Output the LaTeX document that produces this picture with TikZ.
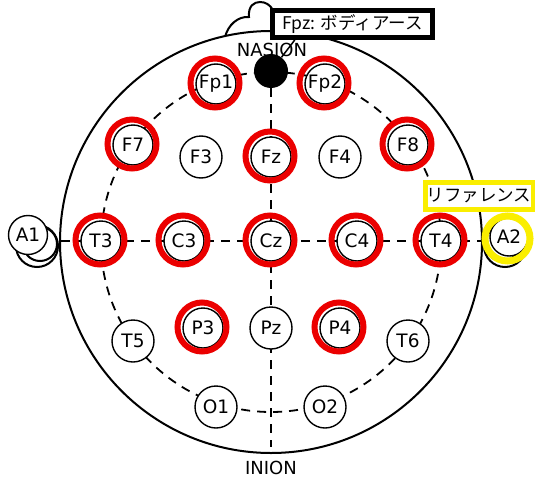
\documentclass[tikz,border=0pt]{standalone}
\usepackage{fontspec}
\setmainfont{DejaVu Sans}
\newfontfamily\jpfont{Noto Sans CJK JP}
\usetikzlibrary{calc}
\definecolor{ringred}{RGB}{235,0,0}
\definecolor{refyellow}{RGB}{250,238,0}
\begin{document}
\begin{tikzpicture}[x=1pt,y=-1pt,
  headline/.style={line width=2pt},
  gridline/.style={line width=1.8pt, dash pattern=on 9pt off 7pt},
  electrode/.style={circle, draw, fill=white, line width=1.4pt, minimum size=42pt,
    inner sep=0pt, font=\fontsize{18.5}{18.5}\selectfont},
  marked/.style={electrode, minimum size=40pt},
  ring/.style={draw=ringred, line width=6pt},
  yring/.style={draw=refyellow, line width=7pt},
  dot/.style={circle, fill=black, minimum size=34pt, inner sep=0pt},
  landmark/.style={font=\fontsize{18}{18}\selectfont, inner sep=0pt},
  labelbox/.style={draw, fill=white, line width=5pt, inner sep=0pt,
    font=\jpfont\fontsize{17.5}{17.5}\selectfont},
  pointer/.style={line width=1.5pt}
]
\useasboundingbox (0,0) rectangle (535,479);
\fill[white] (0,0) rectangle (535,479);

% ears
\draw[headline, fill=white] (37,246) circle[radius=21];
\draw[headline, fill=white] (40,244) circle[radius=17];
\draw[headline, fill=white] (505,246) circle[radius=21];
\draw[headline, fill=white] (502,244) circle[radius=17];

% nose
\draw[headline, fill=white] (225,37) .. controls (228,25) and (238,16) .. (249,17)
  .. controls (248,6) and (254,2) .. (260,2) .. controls (266,2) and (270,5) .. (273,10)
  .. controls (290,14) and (300,22) .. (310,36) -- (271,60) -- cycle;

% head
\coordinate (hc) at (271,242);
\draw[headline, fill=white] (hc) circle[radius=211];

% measurement lines
\coordinate (hl) at (61,241);
\coordinate (hr) at (481,241);
\coordinate (vb) at (271,447);
\draw[gridline] (hc) circle[radius=170];
\draw[gridline] (hl) -- (hr);

% landmarks
\node[landmark] (nasionlbl) at (272,50) {NASION};
\node[landmark] (inion) at (271,468) {INION};
\node[dot] (nasion) at (271,71) {};
\draw[gridline] (nasion) -- (vb);

% electrodes
\node[marked] (fp1) at (216,84) {Fp1};
\node[marked] (fp2) at (325,84) {Fp2};
\node[marked] (f7) at (133,145) {F7};
\node[electrode] (f3) at (201,157) {F3};
\node[marked] (fz) at (271,157) {Fz};
\node[electrode] (f4) at (340,157) {F4};
\node[marked] (f8) at (408,145) {F8};
\node[marked] (t3) at (101,241) {T3};
\node[marked] (c3) at (184,241) {C3};
\node[marked] (cz) at (271,241) {Cz};
\node[marked] (c4) at (357,241) {C4};
\node[marked] (t4) at (441,241) {T4};
\node[electrode] (t5) at (133,341) {T5};
\node[marked] (p3) at (203,328) {P3};
\node[electrode] (pz) at (271,328) {Pz};
\node[marked] (p4) at (340,328) {P4};
\node[electrode] (t6) at (408,341) {T6};
\node[electrode] (o1) at (216,407) {O1};
\node[electrode] (o2) at (325,407) {O2};

\foreach \n in {fp1,fp2,f7,fz,f8,t3,c3,cz,c4,t4,p3,p4}
  \draw[ring] ($(\n.center)+(-1,-1)$) circle[radius=24.5];

% ear electrodes
\node[electrode, minimum size=39pt] (a1) at (28,235) {A1};
\node[electrode, minimum size=38pt] (a2) at (509,237) {A2};
\draw[yring] ($(a2.center)+(-1.5,1.5)$) circle[radius=22.5];

% labels
\node[labelbox, minimum width=160pt, minimum height=27pt] (fpz) at (352.5,24) {Fpz: ボディアース};
\draw[pointer] ($(fpz.south west)!0.15!(fpz.south east)$) -- (nasion);
\node[labelbox, draw=refyellow, minimum width=108pt, minimum height=27pt] (ref) at (479,196) {リファレンス};
\end{tikzpicture}
\end{document}
